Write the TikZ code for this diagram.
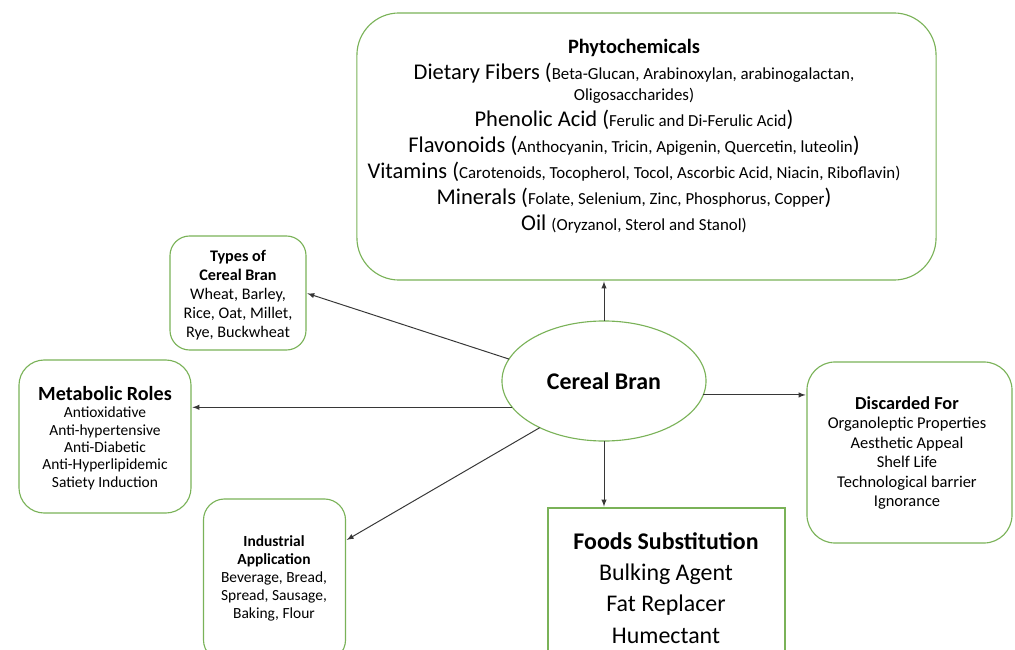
\documentclass[tikz,border=0pt]{standalone}
\usepackage{fontspec}
\setmainfont{Carlito}
\usepackage{tikz}
\usetikzlibrary{arrows}
\usetikzlibrary{shapes.geometric}

\definecolor{boxgreen}{RGB}{122,178,88}
\definecolor{arrowgray}{RGB}{55,55,55}
\newcommand{\smalltxt}[1]{{\fontsize{12}{14}\selectfont #1}}

\tikzset{
  greenbox/.style={draw=boxgreen, line width=0.8pt, inner sep=0pt, outer sep=0pt},
  boxtext/.style={align=center, inner sep=0pt},
  link/.style={->, >=latex, draw=arrowgray, line width=0.7pt, shorten >=1pt}
}

\begin{document}
\begin{tikzpicture}[x=0.025cm, y=-0.025cm]
	 \useasboundingbox (0,0) rectangle (1015,650);
	 % texts
	 \node[boxtext, font={\fontsize{16}{18.5}\selectfont}] (phyto) at (634,136)
	   {{\bfseries\fontsize{14.5}{18.5}\selectfont Phytochemicals}\\
	    Dietary Fibers (\smalltxt{Beta-Glucan, Arabinoxylan, arabinogalactan,}\\[-3.5pt]
	    \smalltxt{Oligosaccharides)}\\
	    Phenolic Acid (\smalltxt{Ferulic and Di-Ferulic Acid})\\
	    Flavonoids (\smalltxt{Anthocyanin, Tricin, Apigenin, Quercetin, luteolin})\\
	    Vitamins (\smalltxt{Carotenoids, Tocopherol, Tocol, Ascorbic Acid, Niacin, Riboflavin)}\\
	    Minerals (\smalltxt{Folate, Selenium, Zinc, Phosphorus, Copper})\\
	    Oil \smalltxt{(Oryzanol, Sterol and Stanol)}};
	 \node[boxtext, font={\fontsize{11.5}{13.5}\selectfont}] (types) at (238,295)
	   {\textbf{Types of}\\ \textbf{Cereal Bran}\\ Wheat, Barley,\\ Rice, Oat, Millet,\\ Rye, Buckwheat};
	 \node[boxtext, font={\fontsize{11}{12.4}\selectfont}] (meta) at (105,438)
	   {{\bfseries\fontsize{14.3}{15}\selectfont Metabolic Roles}\\ Antioxidative\\ Anti-hypertensive\\ Anti-Diabetic\\ Anti-Hyperlipidemic\\ Satiety Induction};
	 \node[boxtext, font={\fontsize{11}{12.8}\selectfont}] (ind) at (274,578)
	   {\textbf{Industrial}\\ \textbf{Application}\\ Beverage, Bread,\\ Spread, Sausage,\\ Baking, Flour};
	 \node[boxtext, font={\fontsize{17}{22.3}\selectfont}] (foods) at (666,588)
	   {\textbf{Foods Substitution}\\ Bulking Agent\\ Fat Replacer\\ Humectant};
	 \node[boxtext, font={\fontsize{11.7}{13.9}\selectfont}] (disc) at (907,453)
	   {{\bfseries\fontsize{13}{13.9}\selectfont Discarded For}\\ Organoleptic Properties\\ Aesthetic Appeal\\ Shelf Life\\ Technological barrier\\ Ignorance};
	 % boxes
	 \node[greenbox, rounded corners=30pt, minimum width=14.475cm, minimum height=6.675cm] (phytobox) at (646.5,146.5) {};
	 \node[greenbox, rounded corners=14pt, minimum width=3.4cm, minimum height=2.85cm] (typesbox) at (238,293) {};
	 \node[greenbox, rounded corners=18pt, minimum width=4.3cm, minimum height=3.825cm] (metabox) at (105,436.5) {};
	 \node[greenbox, rounded corners=15pt, minimum width=3.55cm, minimum height=4.05cm] (indbox) at (274.5,580) {};
	 \node[greenbox, minimum width=5.925cm, minimum height=3.85cm] (foodsbox) at (666.5,585) {};
	 \node[greenbox, rounded corners=20pt, minimum width=5.125cm, minimum height=4.525cm] (discbox) at (909.5,452.5) {};
	 \node[greenbox, ellipse, minimum width=5.1cm, minimum height=3cm,
	   font={\bfseries\fontsize{17}{20}\selectfont}] (bran) at (604,381) {Cereal Bran};
	 % arrows
	 \draw[link] (bran.north) -- (bran.north |- phytobox.south);
	 \draw[link] (bran.167) -- (typesbox.east);
	 \draw[link] (bran.196) -- (bran.196 -| metabox.east);
	 \draw[link] (bran.216) -- (indbox.29);
	 \draw[link] (bran.south) -- (bran.south |- foodsbox.north);
	 \draw[link] (bran.-8) -- (bran.-8 -| discbox.west);
\end{tikzpicture}
\end{document}
